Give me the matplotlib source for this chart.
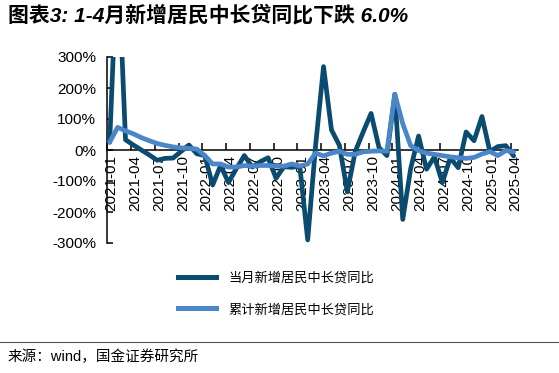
import matplotlib
matplotlib.use("Agg")
import matplotlib.pyplot as plt
from matplotlib.lines import Line2D
import numpy as np

plt.rcParams['font.family'] = ['Liberation Sans', 'Noto Sans CJK SC', 'DejaVu Sans']
plt.rcParams['axes.unicode_minus'] = False

# ---- data (monthly, 2021-01 .. 2025-04), values in % ----
tick_labels = ['2021-01', '2021-04', '2021-07', '2021-10',
               '2022-01', '2022-04', '2022-07', '2022-10',
               '2023-01', '2023-04', '2023-07', '2023-10',
               '2024-01', '2024-04', '2024-07', '2024-10',
               '2025-01', '2025-04']

monthly_yoy = [25, 650, 33, 16, 0, -16, -33, -27, -26, -5, 16, -12,
               -18, -113, -50, -105, -60, -18, -55, -38, -25, -91, -54, -56,
               -52, -290, 15, 269, 65, 15, -135, -5, 58, 118, 8, -18,
               180, -224, -60, 45, -62, -22, -105, -25, -57, 58, 30, 108,
               -5, 11, 14, -19]

cumulative_yoy = [25, 73, 62, 52, 40, 30, 21, 15, 10, 7, 5, 3,
                  -18, -45, -45, -55, -55, -50, -52, -50, -50, -52, -52, -45,
                  -52, -45, -10, -19, -10, -4, -14, -14, -6, -4, -3, -4,
                  180, 85, 14, -2, -10, -14, -18, -22, -25, -27, -24, -13,
                  -5, -18, -2, -6]

series_names = ['当月新增居民中长贷同比', '累计新增居民中长贷同比']
title = '图表3: 1-4月新增居民中长贷同比下跌 6.0%'
source = '来源：wind，国金证券研究所'

dark = '#0A4B70'
light = '#4A86C8'

W, H = 559, 373
fig = plt.figure(figsize=(W / 100, H / 100), dpi=100)
ax = fig.add_axes([107.3 / W, 1 - 243 / H, (518 - 107.3) / W, (243 - 57) / H])

x = np.arange(len(monthly_yoy))
ax.plot(x, monthly_yoy, color=dark, lw=3.4, solid_joinstyle='round',
        solid_capstyle='round', zorder=3)
ax.plot(x, cumulative_yoy, color=light, lw=3.4, solid_joinstyle='round',
        solid_capstyle='round', zorder=3.1)

ax.set_xlim(-0.3, 51.55)
ax.set_ylim(-300, 300)
ax.set_yticks([-300, -200, -100, 0, 100, 200, 300])
ax.set_yticklabels([f'{v}%' for v in [-300, -200, -100, 0, 100, 200, 300]])

ax.spines['top'].set_visible(False)
ax.spines['right'].set_visible(False)
ax.spines['bottom'].set_position(('data', 0))
for s in ['left', 'bottom']:
    ax.spines[s].set_linewidth(1.1)
    ax.spines[s].set_color('black')

major = [3 * k - 0.3 for k in range(len(tick_labels))]
ax.set_xticks(major)
ax.set_xticklabels([''] * len(major))
ax.set_xticks([3 * k + 0.25 for k in range(len(tick_labels))], minor=True)
ax.set_xticklabels(tick_labels, minor=True, rotation=90, va='top', ha='center')
ax.tick_params(axis='x', which='major', direction='in', length=5, width=1.1)
ax.tick_params(axis='x', which='minor', length=0, pad=3.5, labelsize=11)
ax.tick_params(axis='y', direction='in', length=4, width=1.1, labelsize=11, pad=8)

fig.text(8 / W, 1 - 15 / H, title, fontsize=15, fontweight='bold',
         fontstyle='italic', va='center', ha='left')
fig.text(8 / W, 1 - 357 / H, source, fontsize=10.5, va='center', ha='left')
fig.add_artist(Line2D([0, 1], [1 - 342 / H, 1 - 342 / H], color='#555555',
                      lw=0.8, transform=fig.transFigure))

handles = [Line2D([], [], color=dark, lw=3.6), Line2D([], [], color=light, lw=3.6)]
fig.legend(handles, series_names, loc='upper left',
           bbox_to_anchor=(178 / W, 1 - 272 / H), frameon=False,
           fontsize=9.5, handlelength=2.9, handletextpad=0.9,
           labelspacing=1.4, borderpad=0, borderaxespad=0)

fig.savefig('out.png', dpi=100)
